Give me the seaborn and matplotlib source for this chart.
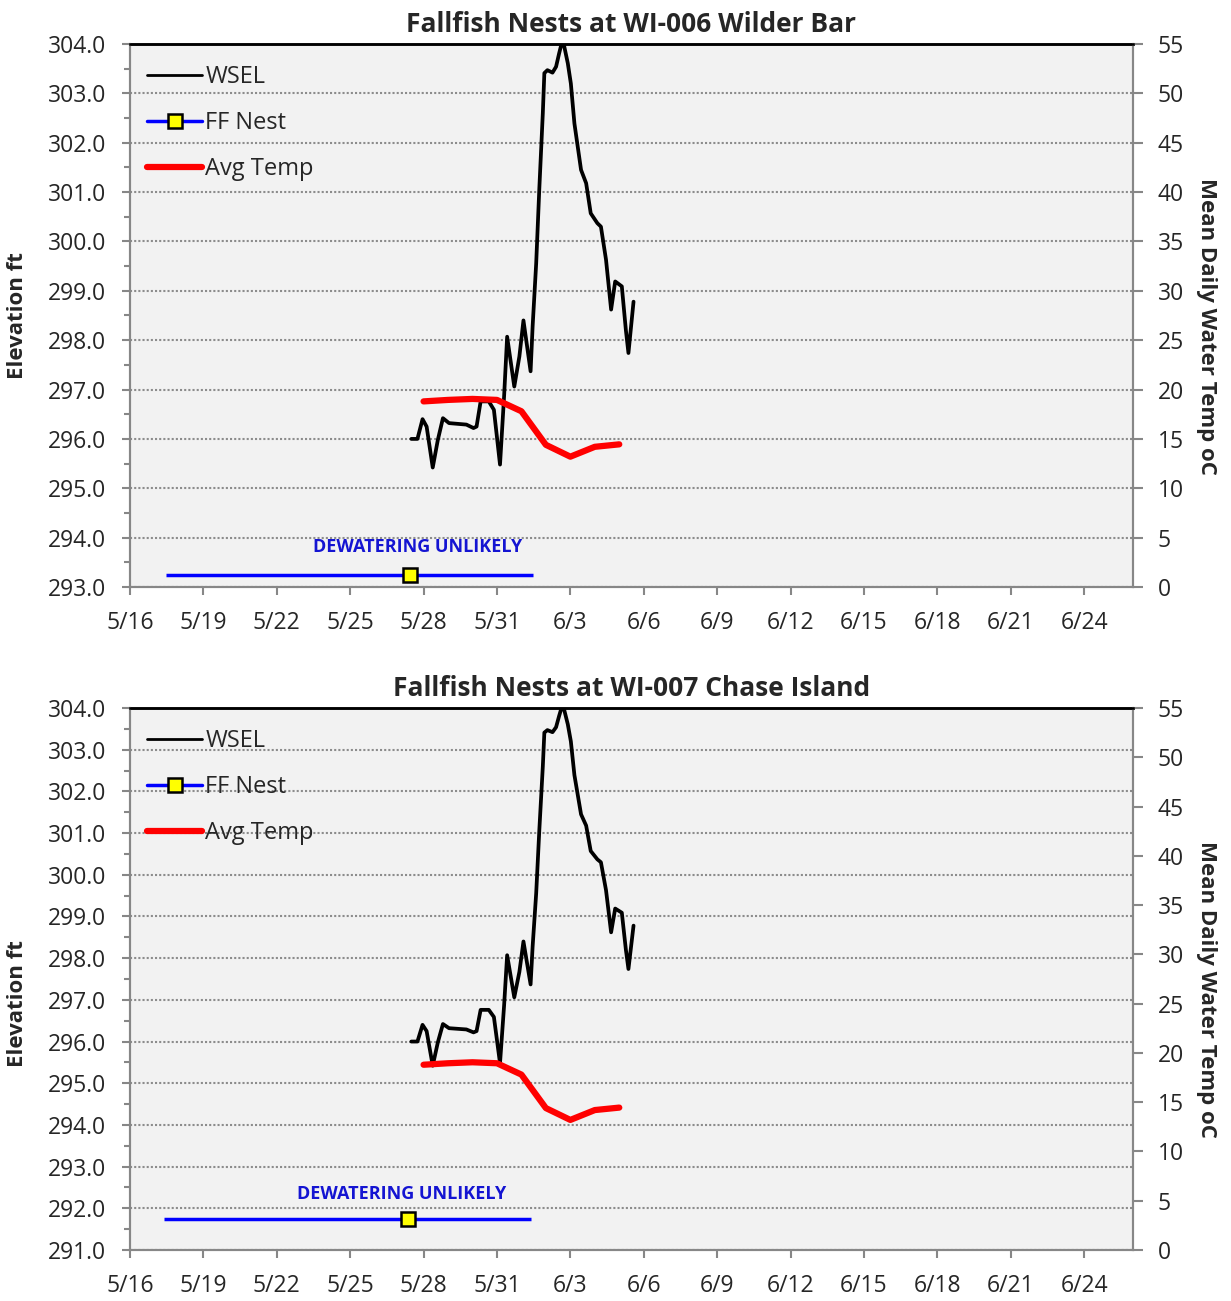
import matplotlib
matplotlib.use("Agg")
import matplotlib.pyplot as plt
import matplotlib.dates as mdates
from matplotlib.lines import Line2D
from matplotlib.ticker import MultipleLocator, FormatStrFormatter, FuncFormatter
import pandas as pd
import seaborn as sns

# ---- data -------------------------------------------------------------
wsel_time = [
    "2012-05-27 12:00", "2012-05-27 18:00", "2012-05-27 23:00", "2012-05-28 03:00",
    "2012-05-28 09:00", "2012-05-28 14:00", "2012-05-28 19:00", "2012-05-29 01:00",
    "2012-05-29 18:00", "2012-05-30 01:00", "2012-05-30 04:00", "2012-05-30 08:00",
    "2012-05-30 16:00", "2012-05-30 21:00", "2012-05-31 03:00", "2012-05-31 07:00",
    "2012-05-31 10:00", "2012-05-31 17:00", "2012-05-31 22:00", "2012-06-01 02:00",
    "2012-06-01 09:00", "2012-06-01 11:00", "2012-06-01 14:30", "2012-06-01 17:30",
    "2012-06-01 21:00", "2012-06-01 22:30", "2012-06-02 01:30", "2012-06-02 06:30",
    "2012-06-02 10:00", "2012-06-02 13:00", "2012-06-02 16:30", "2012-06-02 21:30",
    "2012-06-03 00:30", "2012-06-03 04:00", "2012-06-03 10:30", "2012-06-03 15:30",
    "2012-06-03 20:00", "2012-06-04 02:30", "2012-06-04 06:00", "2012-06-04 11:00",
    "2012-06-04 16:00", "2012-06-04 20:00", "2012-06-05 02:30", "2012-06-05 06:30",
    "2012-06-05 09:00", "2012-06-05 14:00",
]
wsel_ft = [
    296.00, 296.00, 296.40, 296.25,
    295.42, 295.98, 296.42, 296.32,
    296.29, 296.22, 296.25, 296.76,
    296.76, 296.59, 295.48, 296.86,
    298.07, 297.06, 297.67, 298.40,
    297.37, 298.28, 299.56, 301.04,
    302.60, 303.41, 303.47, 303.42,
    303.54, 303.81, 304.10, 303.61,
    303.20, 302.39, 301.45, 301.18,
    300.57, 300.37, 300.30, 299.63,
    298.62, 299.19, 299.09, 298.20,
    297.74, 298.78,
]

temp_date = ["2012-05-28", "2012-05-29", "2012-05-30", "2012-05-31", "2012-06-01",
             "2012-06-02", "2012-06-03", "2012-06-04", "2012-06-05"]
temp_c = [18.8, 18.95, 19.05, 18.95, 17.8, 14.4, 13.2, 14.2, 14.45]

sites = ["Fallfish Nests at WI-006 Wilder Bar", "Fallfish Nests at WI-007 Chase Island"]
nest_time = ["2012-05-27 11:00", "2012-05-27 09:00"]
nest_elev_ft = [293.25, 291.75]
nest_days_before = [10, 10]
nest_days_after = [5, 5]
elev_min = [293.0, 291.0]
elev_max = 304.0
temp_max = 55
x_start, x_end = "2012-05-16", "2012-06-26"
dewater_note = "DEWATERING UNLIKELY"

# ---- styling ----------------------------------------------------------
sns.set_theme(style="ticks")
plt.rcParams["font.family"] = ["Open Sans", "DejaVu Sans"]

GRID = "#8c8c8c"
SPINE = "#878787"
FS = 16.5

wsel = pd.DataFrame({"time": pd.to_datetime(wsel_time), "ft": wsel_ft})
temp = pd.DataFrame({"time": pd.to_datetime(temp_date), "c": temp_c})

fig = plt.figure(figsize=(12.31, 13.01), dpi=100)
rects = [[130 / 1231, 1 - 587 / 1301, 1003 / 1231, 543 / 1301],
         [130 / 1231, 1 - 1250 / 1301, 1003 / 1231, 542 / 1301]]
ylabel_y = [0.5, 0.455]
note_offset = [(5, 20), (-5, 18)]

for i in range(2):
    ax = fig.add_axes(rects[i])
    ax.set_facecolor("#f2f2f2")

    sns.lineplot(data=wsel, x="time", y="ft", ax=ax, color="black", linewidth=2.7,
                 solid_joinstyle="round", solid_capstyle="round", zorder=3)

    nx = mdates.date2num(pd.Timestamp(nest_time[i]))
    ax.errorbar([nx], [nest_elev_ft[i]],
                xerr=[[nest_days_before[i]], [nest_days_after[i]]],
                fmt="s", ms=9.5, mfc="#ffff00", mec="black", mew=1.8,
                ecolor="#0000ff", elinewidth=2.5, capsize=0, zorder=4)
    ax.annotate(dewater_note, (nx, nest_elev_ft[i]), xytext=note_offset[i],
                textcoords="offset points", ha="center", va="center",
                color="#1414d2", fontsize=13, fontweight="bold")

    ax.set_xlim(pd.Timestamp(x_start), pd.Timestamp(x_end))
    ax.set_ylim(elev_min[i], elev_max)
    ax.set_xticks(pd.date_range(x_start, x_end, freq="3D"))
    ax.xaxis.set_major_formatter(FuncFormatter(
        lambda v, p: f"{mdates.num2date(v).month}/{mdates.num2date(v).day}"))
    ax.yaxis.set_major_locator(MultipleLocator(1))
    ax.yaxis.set_minor_locator(MultipleLocator(0.5))
    ax.yaxis.set_major_formatter(FormatStrFormatter("%.1f"))
    ax.grid(axis="y", which="major", color=GRID, ls=(0, (1, 1)), lw=1.5)
    ax.set_xlabel("")
    ax.set_ylabel("Elevation ft", fontsize=16, fontweight="bold", va="center")
    ax.yaxis.set_label_coords(-112 / 1003, ylabel_y[i])
    ax.tick_params(axis="y", which="major", length=6, width=1.5, color=SPINE,
                   labelsize=FS, pad=11)
    ax.tick_params(axis="y", which="minor", length=4, width=1.5, color=SPINE)
    ax.tick_params(axis="x", length=6, width=1.5, color=SPINE, labelsize=FS, pad=11)
    ax.set_title(sites[i], fontsize=19, fontweight="bold", pad=9)

    ax2 = ax.twinx()
    sns.lineplot(data=temp, x="time", y="c", ax=ax2, color="#ff0000", linewidth=4.5,
                 solid_joinstyle="round", solid_capstyle="round", zorder=2)
    ax2.set_ylim(0, temp_max)
    ax2.yaxis.set_major_locator(MultipleLocator(5))
    ax2.set_ylabel("Mean Daily Water Temp oC", fontsize=16, fontweight="bold",
                   rotation=270, va="center")
    ax2.yaxis.set_label_coords(1077 / 1003, 0.48)
    ax2.tick_params(axis="y", length=7, width=1.5, color=SPINE, labelsize=FS, pad=11)
    ax2.set_xlabel("")

    for a in (ax, ax2):
        for side in ("left", "right", "bottom"):
            a.spines[side].set_color(SPINE)
            a.spines[side].set_linewidth(1.5)
        a.spines["top"].set_color("black")
        a.spines["top"].set_linewidth(1.8)

    handles = [
        Line2D([], [], color="black", lw=2.0),
        Line2D([], [], color="#0000ff", lw=2.5, marker="s", ms=9.5,
               mfc="#ffff00", mec="black", mew=1.8),
        Line2D([], [], color="#ff0000", lw=4.5),
    ]
    ax2.legend(handles, ["WSEL", "FF Nest", "Avg Temp"], loc="upper left",
               bbox_to_anchor=(0.008, 0.978), borderaxespad=0, frameon=False,
               fontsize=17, handlelength=2.3, handletextpad=0.15,
               labelspacing=0.92)

fig.savefig("out.png", dpi=100)
